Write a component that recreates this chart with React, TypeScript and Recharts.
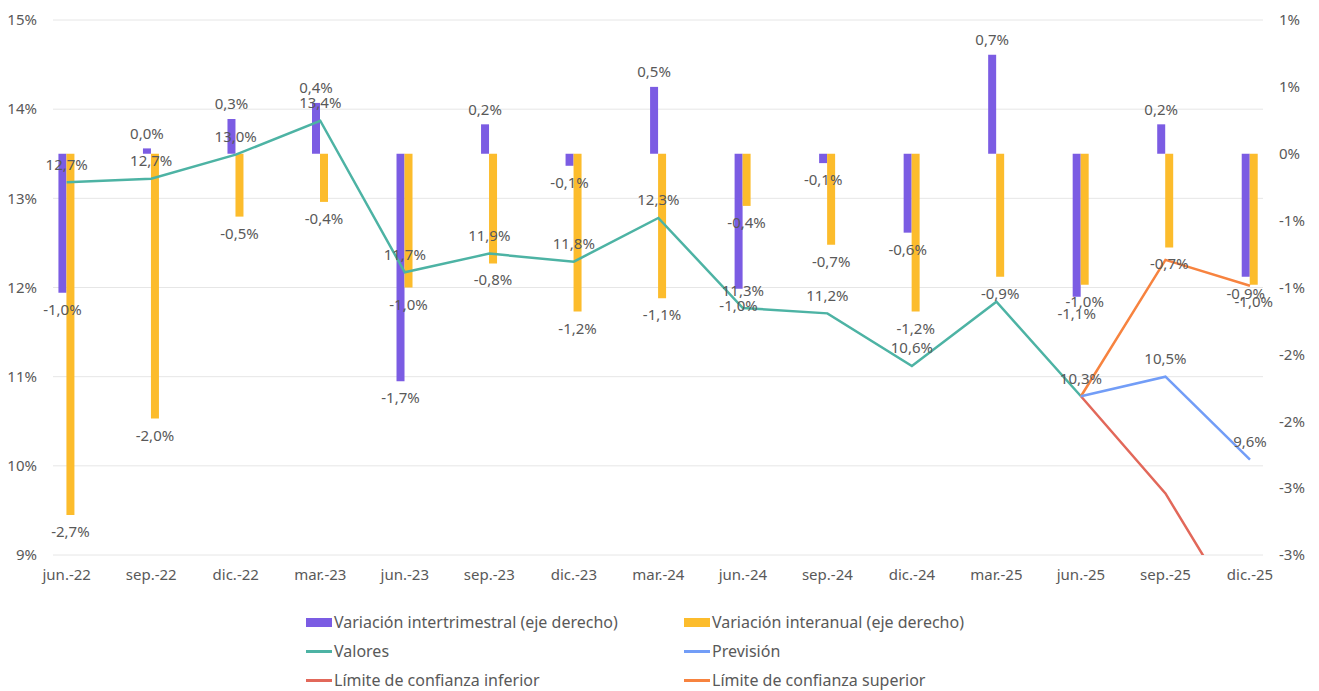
import {
  ComposedChart,
  Bar,
  Line,
  XAxis,
  YAxis,
  CartesianGrid,
  LabelList,
} from 'recharts';

const categories = [
  'jun.-22', 'sep.-22', 'dic.-22', 'mar.-23', 'jun.-23', 'sep.-23', 'dic.-23', 'mar.-24',
  'jun.-24', 'sep.-24', 'dic.-24', 'mar.-25', 'jun.-25', 'sep.-25', 'dic.-25',
];

// right axis (%)
const intertrimestral = [-1.04, 0.04, 0.26, 0.38, -1.7, 0.22, -0.09, 0.5, -1.01, -0.07, -0.59, 0.74, -1.07, 0.22, -0.92];
const interanual = [-2.7, -1.98, -0.47, -0.36, -1.0, -0.82, -1.18, -1.08, -0.39, -0.68, -1.18, -0.92, -0.98, -0.7, -0.98];

// left axis (%)
const valores = [12.68, 12.72, 12.99, 13.37, 11.67, 11.88, 11.79, 12.28, 11.27, 11.21, 10.62, 11.34, 10.28, null, null];
const prevision = [null, null, null, null, null, null, null, null, null, null, null, null, 10.28, 10.5, 9.57];
const limiteInferior = [null, null, null, null, null, null, null, null, null, null, null, null, 10.28, 9.19, 7.63];
const limiteSuperior = [null, null, null, null, null, null, null, null, null, null, null, null, 10.28, 11.81, 11.52];

// the label of mar.-25 is not shown in the original
const hiddenValorLabels = ['mar.-25'];

const leftTicks = [8.5, 9.5, 10.5, 11.5, 12.5, 13.5, 14.5];
const rightTicks = [-3, -2.5, -2, -1.5, -1, -0.5, 0, 0.5, 1];

const data = categories.map((name, i) => ({
  idx: i,
  name,
  intertrimestral: intertrimestral[i],
  interanual: interanual[i],
  valores: valores[i],
  prevision: prevision[i],
  limiteInferior: limiteInferior[i],
  limiteSuperior: limiteSuperior[i],
}));

const FONT = '"Noto Sans", "Open Sans", sans-serif';
const TEXT = '#595959';

const COLORS = {
  intertrimestral: '#7b5ce3',
  interanual: '#fcbc2c',
  valores: '#4db3a4',
  prevision: '#729df7',
  inferior: '#e2685a',
  superior: '#f7833f',
};

const fmt = (v: number) => v.toFixed(1).replace('.', ',') + '%';

const barLabel = (props: any) => {
  const vb = props.viewBox || props;
  const x = props.x ?? vb.x;
  const y = props.y ?? vb.y;
  const w = props.width ?? vb.width;
  const h = props.height ?? vb.height;
  const value = props.value;
  if (value == null) return null;
  const top = Math.min(y, y + h);
  const bottom = Math.max(y, y + h);
  const ty = value >= 0 ? top - 9.5 : bottom + 22;
  return (
    <text x={x + w / 2} y={ty} textAnchor="middle" fill={TEXT} fontSize={15} fontFamily={FONT}>
      {fmt(value)}
    </text>
  );
};

const lineLabel = (props: any) => {
  const vb = props.viewBox || {};
  const x = props.x ?? vb.x;
  const y = props.y ?? vb.y;
  const { value, index } = props;
  if (value == null) return null;
  if (hiddenValorLabels.includes(categories[index])) return null;
  return (
    <text x={x} y={y - 12.5} textAnchor="middle" fill={TEXT} fontSize={15} fontFamily={FONT}>
      {fmt(value)}
    </text>
  );
};

const legendItems = [
  { label: 'Variación intertrimestral (eje derecho)', color: COLORS.intertrimestral, kind: 'bar' },
  { label: 'Variación interanual (eje derecho)', color: COLORS.interanual, kind: 'bar' },
  { label: 'Valores', color: COLORS.valores, kind: 'line' },
  { label: 'Previsión', color: COLORS.prevision, kind: 'line' },
  { label: 'Límite de confianza inferior', color: COLORS.inferior, kind: 'line' },
  { label: 'Límite de confianza superior', color: COLORS.superior, kind: 'line' },
];

const legendRows = [622, 651, 680];

function ChartLegend() {
  return (
    <div style={{ position: 'absolute', left: 0, top: 0, width: 1319, height: 691, pointerEvents: 'none' }}>
      {legendItems.map((it, i) => {
        const col = i % 2;
        const row = Math.floor(i / 2);
        return (
          <div
            key={it.label}
            style={{
              position: 'absolute',
              left: col === 0 ? 306 : 684,
              top: legendRows[row] - 11,
              height: 22,
              display: 'flex',
              alignItems: 'center',
              fontFamily: FONT,
              fontSize: 16,
              color: TEXT,
              whiteSpace: 'nowrap',
            }}
          >
            <span
              style={{
                display: 'inline-block',
                width: 26,
                height: it.kind === 'bar' ? 9 : 3,
                background: it.color,
                marginRight: 2,
              }}
            />
            {it.label}
          </div>
        );
      })}
    </div>
  );
}

export default function App() {
  return (
    <div style={{ position: 'absolute', left: 0, top: 0, width: 1319, height: 691, background: '#fff' }}>
      <ComposedChart
        width={1319}
        height={691}
        data={data}
        margin={{ top: 20, right: 0, bottom: 106, left: 0 }}
        barGap={0}
        style={{ fontFamily: FONT }}
      >
        <CartesianGrid yAxisId="left" vertical={false} stroke="#e6e6e6" />
        <XAxis
          dataKey="idx"
          type="number"
          domain={[-0.162, 14.154]}
          ticks={categories.map((_, i) => i)}
          tickFormatter={(i: number) => categories[i]}
          interval={0}
          axisLine={false}
          tickLine={false}
          tickSize={0}
          tickMargin={14}
          height={30}
          tick={{ fill: TEXT, fontSize: 15, fontFamily: FONT }}
        />
        <YAxis
          yAxisId="left"
          orientation="left"
          domain={[8.5, 14.5]}
          ticks={leftTicks}
          allowDataOverflow
          tickFormatter={(v: number) => v.toFixed(0) + '%'}
          axisLine={false}
          tickLine={false}
          tickSize={0}
          tickMargin={16}
          width={53}
          tick={{ fill: TEXT, fontSize: 15, fontFamily: FONT }}
        />
        <YAxis
          yAxisId="right"
          orientation="right"
          domain={[-3, 1]}
          ticks={rightTicks}
          allowDataOverflow
          tickFormatter={(v: number) => v.toFixed(0) + '%'}
          axisLine={false}
          tickLine={false}
          tickSize={0}
          tickMargin={16}
          width={56}
          tick={{ fill: TEXT, fontSize: 15, fontFamily: FONT, textAnchor: 'start' }}
        />
        <Bar yAxisId="right" dataKey="intertrimestral" fill={COLORS.intertrimestral} barSize={8} isAnimationActive={false}>
          <LabelList dataKey="intertrimestral" content={barLabel} />
        </Bar>
        <Bar yAxisId="right" dataKey="interanual" fill={COLORS.interanual} barSize={8} isAnimationActive={false}>
          <LabelList dataKey="interanual" content={barLabel} />
        </Bar>
        <Line yAxisId="left" type="linear" dataKey="valores" stroke={COLORS.valores} strokeWidth={2.5} dot={false} isAnimationActive={false}>
          <LabelList dataKey="valores" content={lineLabel} />
        </Line>
        <Line yAxisId="left" type="linear" dataKey="limiteInferior" stroke={COLORS.inferior} strokeWidth={2.5} dot={false} isAnimationActive={false} />
        <Line yAxisId="left" type="linear" dataKey="limiteSuperior" stroke={COLORS.superior} strokeWidth={2.5} dot={false} isAnimationActive={false} />
        <Line yAxisId="left" type="linear" dataKey="prevision" stroke={COLORS.prevision} strokeWidth={2.5} dot={false} isAnimationActive={false}>
          <LabelList
            dataKey="prevision"
            content={(p: any) => (p.index === 12 ? null : lineLabel(p))}
          />
        </Line>
      </ComposedChart>
      <ChartLegend />
    </div>
  );
}
